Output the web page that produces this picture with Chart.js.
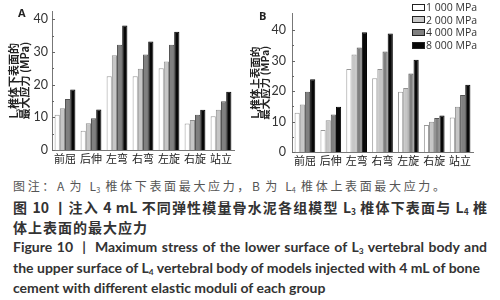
<!DOCTYPE html>
<html><head><meta charset="utf-8">
<script src="https://cdn.jsdelivr.net/npm/chart.js@4.4.1/dist/chart.umd.min.js"></script>
<style>
html,body{margin:0;padding:0;background:#fff;width:500px;height:300px;overflow:hidden;}
.wrap{position:absolute;top:0;width:250px;height:172px;}
.lbl{position:absolute;font:bold 11px "Open Sans",sans-serif;color:#222;}
.legend{position:absolute;left:412px;top:1px;font:10.5px "Open Sans",sans-serif;color:#333;}
.legend div{height:12.7px;line-height:12.7px;white-space:nowrap;}
.legend span.box{display:inline-block;width:11px;height:5px;border:1px solid #222;vertical-align:middle;margin-right:1px;position:relative;top:-1px;}
.cap{position:absolute;left:13px;white-space:nowrap;text-align:justify;text-align-last:justify;color:#333;}
.cap sub{font-size:60%;vertical-align:-2px;line-height:0;}
.c1{font:12px "Noto Sans CJK SC",sans-serif;color:#555;}
.c2{font:bold 14px "Noto Sans CJK SC",sans-serif;}
.c3{font:bold 14px Lato,"Noto Sans CJK SC",sans-serif;}
</style></head>
<body>
<div class="wrap" style="left:0"><canvas id="ca" width="250" height="172"></canvas></div>
<div class="wrap" style="left:250px"><canvas id="cb" width="250" height="172"></canvas></div>
<div class="lbl" style="left:18px;top:5px;">A</div>
<div class="lbl" style="left:259px;top:8px;">B</div>
<div class="legend" id="legend"></div>
<div class="cap c1" style="top:177px;width:432px;">图注：A 为 L<sub>3</sub> 椎体下表面最大应力，B 为 L<sub>4</sub> 椎体上表面最大应力。</div>
<div class="cap c2" style="top:197px;width:474px;">图 10 丨注入 4 mL 不同弹性模量骨水泥各组模型 L<sub>3</sub> 椎体下表面与 L<sub>4</sub> 椎</div>
<div class="cap c2" style="top:217px;width:134px;">体上表面的最大应力</div>
<div class="cap c3" style="top:238px;width:474px;">Figure 10 &nbsp;| &nbsp;Maximum stress of the lower surface of L<sub>3</sub> vertebral body and</div>
<div class="cap c3" style="top:259px;width:467px;">the upper surface of L<sub>4</sub> vertebral body of models injected with 4 mL of bone</div>
<div class="cap c3" style="top:279px;width:310px;">cement with different elastic moduli of each group</div>
<script>
const categories = ['前屈','后伸','左弯','右弯','左旋','右旋','站立'];
const seriesNames = ['1 000 MPa','2 000 MPa','4 000 MPa','8 000 MPa'];
// Panel A: L3 lower surface max stress (MPa)
const a1000 = [10.8, 5.9, 22.6, 22.6, 25.0, 8.1, 10.3];
const a2000 = [12.8, 8.2, 29.0, 24.9, 27.1, 9.2, 12.3];
const a4000 = [15.6, 9.7, 32.2, 29.2, 32.2, 10.8, 14.9];
const a8000 = [18.5, 12.4, 38.1, 33.2, 36.2, 12.3, 17.8];
// Panel B: L4 upper surface max stress (MPa)
const b1000 = [12.9, 7.2, 27.3, 24.2, 19.8, 8.9, 11.3];
const b2000 = [15.6, 10.4, 32.0, 27.3, 21.0, 9.9, 14.9];
const b4000 = [19.8, 12.3, 34.3, 33.0, 25.8, 11.2, 18.7];
const b8000 = [23.9, 14.9, 39.3, 38.9, 30.3, 12.0, 22.1];
const yTicksA = [0,5,10,15,20,25,30,35,40];
const yTicksB = [0,5,10,15,20,25,30,35,40,45];

const fills = ['#ffffff','#c6c6c6','#808080','#080808'];
const borders = ['#9a9a9a','#909090','#555555','#000000'];

const inwardTicks = {
  id:'inwardTicks',
  afterDraw(chart){
    const y = chart.scales.y, ctx = chart.ctx;
    ctx.save(); ctx.strokeStyle='#666'; ctx.lineWidth=1;
    const vals = y.ticks.map(t=>t.value);
    vals.forEach((v,i)=>{
      const py = Math.round(y.getPixelForValue(v))+0.5;
      ctx.beginPath(); ctx.moveTo(y.right, py); ctx.lineTo(y.right+3, py); ctx.stroke();
      if(i<vals.length-1){
        const pm = Math.round(y.getPixelForValue((v+vals[i+1])/2))+0.5;
        ctx.beginPath(); ctx.moveTo(y.right, pm); ctx.lineTo(y.right+2, pm); ctx.stroke();
      }
    });
    ctx.restore();
  }
};

function makeChart(id, series, yTicks, ymax, cfg){
  new Chart(document.getElementById(id), {
    type:'bar',
    data:{labels:categories, datasets: series.map((d,i)=>({
      label:seriesNames[i], data:d, backgroundColor:fills[i], borderColor:borders[i],
      borderWidth:1, borderSkipped:'bottom', categoryPercentage:cfg.cat, barPercentage:1
    }))},
    options:{
      responsive:false, animation:false, devicePixelRatio:1,
      layout:{padding:{left:0,right:cfg.padR,top:cfg.padT,bottom:0}},
      plugins:{legend:{display:false}, tooltip:{enabled:false}},
      scales:{
        x:{grid:{display:false, drawTicks:false}, border:{color:'#777'},
           ticks:{color:'#222', font:{family:'"Noto Sans CJK SC"', size:11}, padding:2, maxRotation:0, autoSkip:false},
           afterFit(s){ s.height = cfg.xH; }},
        y:{min:0, max:ymax, grid:{display:false, drawTicks:false}, border:{color:'#777'},
           afterBuildTicks(s){ s.ticks = yTicks.map(v=>({value:v})); },
           ticks:{color:'#333', font:{family:'Lato', size:12.5}, padding:cfg.tickPad},
           title:{display:true, text:cfg.title, color:'#222', font:{family:'"Noto Sans CJK SC"', size:cfg.tSize, weight:'bold', lineHeight:cfg.tLH}, padding:{top:cfg.tTop,bottom:0}},
           afterFit(s){ s.width = cfg.yW; }}
      }
    },
    plugins:[inwardTicks]
  });
}

makeChart('ca', [a1000,a2000,a4000,a8000], yTicksA, 42.4,
  {cat:0.8, padR:16, padT:5, xH:22, yW:52, tickPad:4, title:['L₃椎体下表面的','最大应力 (MPa)'], tSize:11, tLH:0.95, tTop:9});
makeChart('cb', [b1000,b2000,b4000,b8000], yTicksB, 45.5,
  {cat:0.8, padR:27, padT:6, xH:20, yW:42, tickPad:6, title:['L₄椎体上表面的','最大应力 (MPa)'], tSize:10.5, tLH:0.95, tTop:0});

const lg = document.getElementById('legend');
seriesNames.forEach((n,i)=>{
  const d = document.createElement('div');
  d.innerHTML = '<span class="box" style="background:'+fills[i]+'"></span>'+n;
  lg.appendChild(d);
});
</script>
</body></html>
